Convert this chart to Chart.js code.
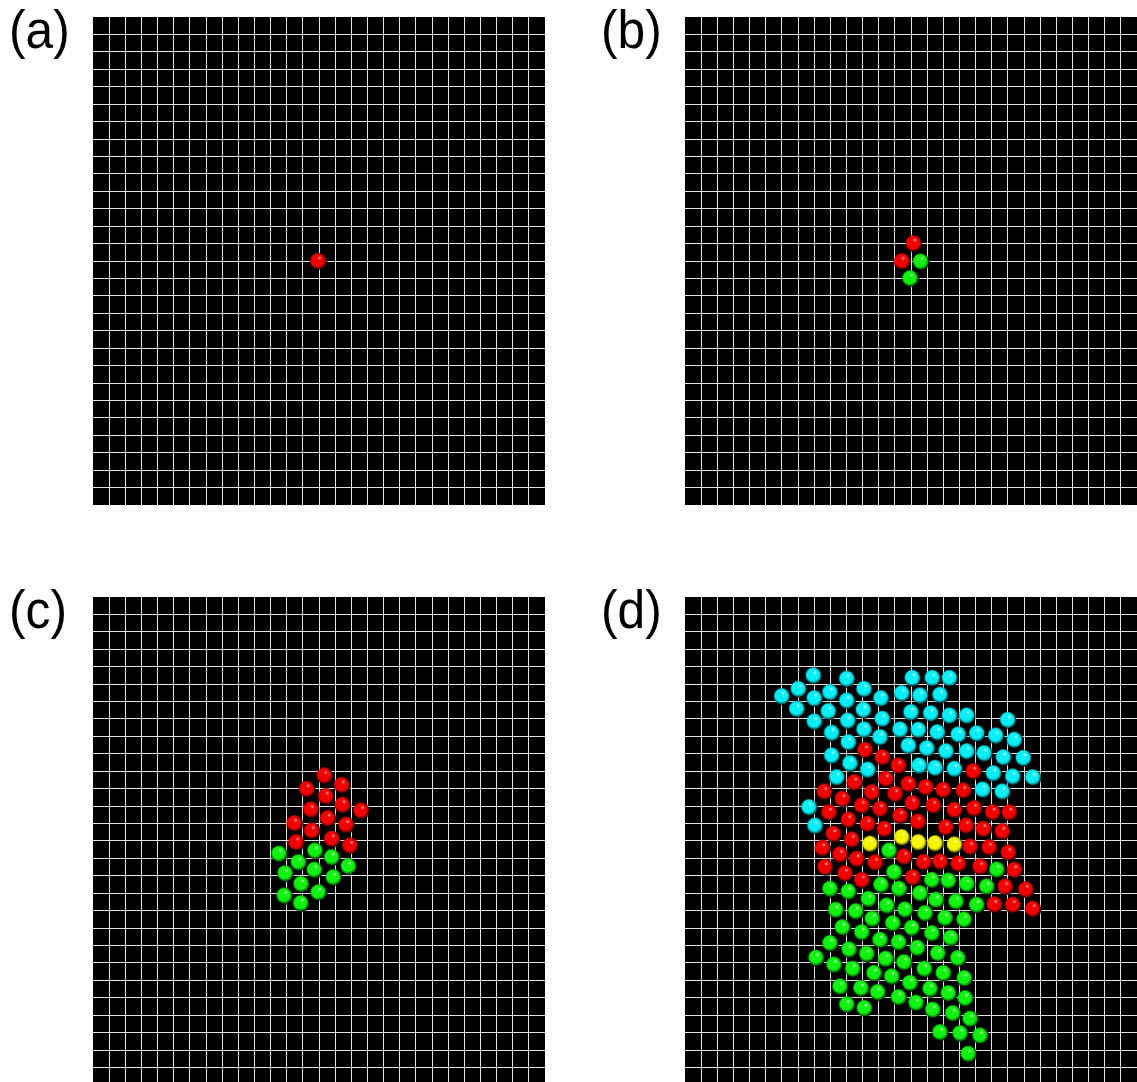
<!DOCTYPE html>
<html>
<head>
<meta charset="utf-8">
<script src="https://cdn.jsdelivr.net/npm/chart.js@4.4.1/dist/chart.umd.min.js"></script>
<style>
  html, body { margin: 0; padding: 0; background: #fff; overflow: hidden; }
  body { width: 1137px; height: 1082px; position: relative; }
  canvas { position: absolute; background: #000; }
  .lbl {
    position: absolute; font-family: "Liberation Sans", Arial, sans-serif;
    font-size: 54px; color: #000; line-height: 1;
    transform: scaleX(0.92); transform-origin: 0 0;
  }
</style>
</head>
<body>
<div class="lbl" style="left:9px;top:2px">(a)</div>
<div class="lbl" style="left:601px;top:2px">(b)</div>
<div class="lbl" style="left:9px;top:582px">(c)</div>
<div class="lbl" style="left:601px;top:582px">(d)</div>
<canvas id="chartA" width="452" height="488" style="left:93px;top:17px"></canvas>
<canvas id="chartB" width="452" height="488" style="left:685px;top:17px"></canvas>
<canvas id="chartC" width="452" height="485" style="left:93px;top:597px"></canvas>
<canvas id="chartD" width="452" height="485" style="left:685px;top:597px"></canvas>
<script>
// lattice size in grid cells (x across, y down)
const gridCols = 28;
const gridRowsTop = 28;
const gridRowsBottom = 27.83;  // lower panels are cut at the page edge

// ball positions, in grid cells, y counted from the top
const aRed = [[13.94, 13.97]];

const bRed = [[14.15, 12.95], [13.43, 13.98]];
const bGreen = [[14.60, 14.00], [13.94, 14.96]];

const cRed = [
  [14.33, 10.21], [15.41, 10.75], [13.24, 10.98], [14.42, 11.40], [15.45, 11.89],
  [16.60, 12.22], [13.49, 12.16], [14.54, 12.66], [12.47, 12.95], [15.68, 13.04],
  [13.55, 13.37], [14.79, 13.84], [12.58, 14.04], [15.92, 14.23]
];
const cGreen = [
  [11.52, 14.70], [13.75, 14.52], [12.72, 15.19], [14.79, 14.90], [15.82, 15.42],
  [11.90, 15.82], [13.71, 15.62], [14.89, 16.05], [12.89, 16.43], [11.85, 17.10],
  [13.96, 16.91], [12.87, 17.54]
];

const dCyan = [
  [7.95, 4.47], [10.02, 4.66], [7.02, 5.24], [5.99, 5.66], [8.01, 5.78],
  [8.98, 5.43], [11.09, 5.24], [10.02, 5.91], [12.14, 5.78], [13.43, 5.49],
  [6.92, 6.39], [8.88, 6.52], [11.05, 6.44], [14.00, 6.58], [8.01, 7.11],
  [10.08, 7.06], [12.22, 6.96], [13.32, 7.57], [9.09, 7.76], [11.09, 7.57],
  [12.08, 8.01], [10.12, 8.30], [13.84, 8.49], [9.09, 9.06], [10.22, 9.51],
  [11.32, 9.88], [9.40, 10.31], [7.68, 12.03], [8.05, 13.08], [14.08, 4.61],
  [15.32, 4.61], [16.38, 4.61], [14.56, 5.62], [15.80, 5.58], [15.22, 6.64],
  [16.38, 6.77], [17.45, 6.77], [19.99, 7.02], [14.45, 7.59], [15.63, 7.73],
  [16.93, 7.86], [18.07, 7.79], [19.25, 7.92], [20.40, 8.16], [14.98, 8.65],
  [16.17, 8.82], [17.45, 8.82], [18.53, 8.93], [19.72, 9.16], [20.96, 9.20],
  [14.50, 9.64], [15.49, 9.77], [16.69, 9.83], [19.10, 10.08], [20.30, 10.27],
  [21.54, 10.31], [18.44, 11.02], [19.66, 11.13]
];
const dRed = [
  [11.15, 8.74], [12.22, 9.16], [13.22, 9.64], [10.49, 10.60], [12.44, 10.40],
  [13.84, 10.69], [8.63, 11.13], [9.75, 11.55], [11.57, 11.17], [13.01, 11.26],
  [14.08, 11.80], [8.92, 12.32], [10.95, 11.93], [12.08, 12.12], [10.12, 12.74],
  [11.30, 12.98], [13.32, 12.51], [12.35, 13.27], [9.19, 13.56], [10.33, 13.88],
  [8.51, 14.36], [9.60, 14.74], [10.64, 14.99], [11.77, 15.20], [8.67, 15.46],
  [13.57, 14.86], [9.91, 15.82], [10.95, 16.20], [17.86, 9.97], [14.91, 10.88],
  [16.00, 11.03], [17.24, 11.07], [15.38, 11.93], [16.69, 12.18], [17.91, 12.09],
  [19.06, 12.32], [20.09, 12.32], [14.42, 12.85], [16.15, 13.18], [17.41, 13.08],
  [18.48, 13.27], [19.66, 13.41], [17.66, 14.29], [18.84, 14.33], [20.03, 14.63],
  [14.78, 15.18], [15.80, 15.15], [16.93, 15.26], [18.28, 15.43], [20.40, 15.62],
  [14.11, 16.05], [19.83, 16.58], [21.11, 16.75], [19.16, 17.61], [20.30, 17.63],
  [21.54, 17.86]
];
const dYellow = [
  [11.46, 14.13], [13.43, 13.75], [14.45, 14.04], [15.49, 14.10], [16.69, 14.17]
];
const dGreen = [
  [12.64, 14.52], [12.95, 15.76], [8.98, 16.71], [10.12, 16.87], [11.36, 17.29],
  [12.14, 16.48], [13.26, 16.71], [9.34, 17.92], [10.58, 18.00], [11.60, 18.43],
  [12.50, 17.67], [13.63, 17.90], [9.75, 18.92], [10.95, 19.20], [12.87, 18.69],
  [8.98, 19.83], [10.16, 20.19], [12.08, 19.64], [11.26, 20.44], [13.23, 19.78],
  [8.12, 20.67], [9.23, 21.06], [10.39, 21.30], [12.43, 20.73], [11.71, 21.55],
  [12.81, 21.74], [13.57, 20.92], [9.60, 22.32], [10.90, 22.41], [11.94, 22.64],
  [13.23, 22.93], [10.02, 23.35], [11.11, 23.56], [19.31, 15.61], [15.29, 16.20],
  [16.31, 16.24], [17.45, 16.43], [18.69, 16.58], [14.56, 16.97], [15.55, 17.34],
  [16.79, 17.44], [18.07, 17.63], [14.87, 18.11], [16.11, 18.38], [17.29, 18.47],
  [14.05, 18.95], [15.29, 19.26], [16.46, 19.52], [14.39, 20.10], [15.66, 20.41],
  [16.90, 20.69], [14.83, 21.30], [16.00, 21.55], [17.30, 21.84], [13.94, 22.11],
  [15.18, 22.45], [16.31, 22.70], [17.35, 22.99], [14.31, 23.25], [15.35, 23.65],
  [16.59, 23.85], [17.66, 24.17], [15.80, 24.94], [17.04, 25.00], [18.28, 25.13],
  [17.55, 26.18]
];

// little shaded sphere used as point style
function ball(light, dark, glint) {
  const c = document.createElement("canvas");
  c.width = 19;
  c.height = 19;
  const g = c.getContext("2d");
  g.fillStyle = "rgba(0,0,0,0.85)";
  g.beginPath(); g.arc(10.1, 10.6, 8.4, 0, Math.PI * 2); g.fill();
  g.fillStyle = dark;
  g.beginPath(); g.arc(9.5, 9.9, 7.8, 0, Math.PI * 2); g.fill();
  g.fillStyle = light;
  g.beginPath(); g.arc(9.1, 9.2, 6.8, 0, Math.PI * 2); g.fill();
  g.fillStyle = glint;
  g.fillRect(10.5, 5.5, 1, 3);
  g.fillRect(9.5, 6.5, 3, 1);
  return c;
}

const styles = {
  red: ball("#f20000", "#a30000", "rgba(255,190,190,0.9)"),
  green: ball("#12f212", "#009a00", "rgba(200,255,200,0.9)"),
  cyan: ball("#08eef6", "#00a0a8", "rgba(210,255,255,0.9)"),
  yellow: ball("#f6f600", "#a8a800", "rgba(255,255,210,0.9)")
};

const toPts = arr => arr.map(p => ({ x: p[0], y: p[1] }));

function set(arr, style) {
  return {
    data: toPts(arr),
    pointStyle: styles[style],
    pointRadius: 8,
    pointHoverRadius: 8,
    showLine: false
  };
}

function intTicks(max) {
  return scale => {
    const t = [];
    for (let i = 1; i < max; i++) t.push({ value: i });
    scale.ticks = t;
  };
}

function makeChart(id, rows, datasets) {
  const grid = { color: "#e2e2e2", lineWidth: 1, drawTicks: false };
  return new Chart(document.getElementById(id), {
    type: "scatter",
    data: { datasets: datasets },
    options: {
      responsive: false,
      animation: false,
      events: [],
      layout: { padding: 0, autoPadding: false },
      plugins: { legend: { display: false }, tooltip: { enabled: false } },
      scales: {
        x: {
          min: 0, max: gridCols,
          ticks: { display: false },
          grid: grid,
          border: { display: false },
          afterBuildTicks: intTicks(gridCols)
        },
        y: {
          min: 0, max: rows, reverse: true,
          ticks: { display: false },
          grid: grid,
          border: { display: false },
          afterBuildTicks: intTicks(rows)
        }
      }
    }
  });
}

makeChart("chartA", gridRowsTop, [set(aRed, "red")]);
makeChart("chartB", gridRowsTop, [set(bRed, "red"), set(bGreen, "green")]);
makeChart("chartC", gridRowsBottom, [set(cRed, "red"), set(cGreen, "green")]);
makeChart("chartD", gridRowsBottom, [
  set(dCyan, "cyan"), set(dRed, "red"), set(dGreen, "green"), set(dYellow, "yellow")
]);
</script>
</body>
</html>
